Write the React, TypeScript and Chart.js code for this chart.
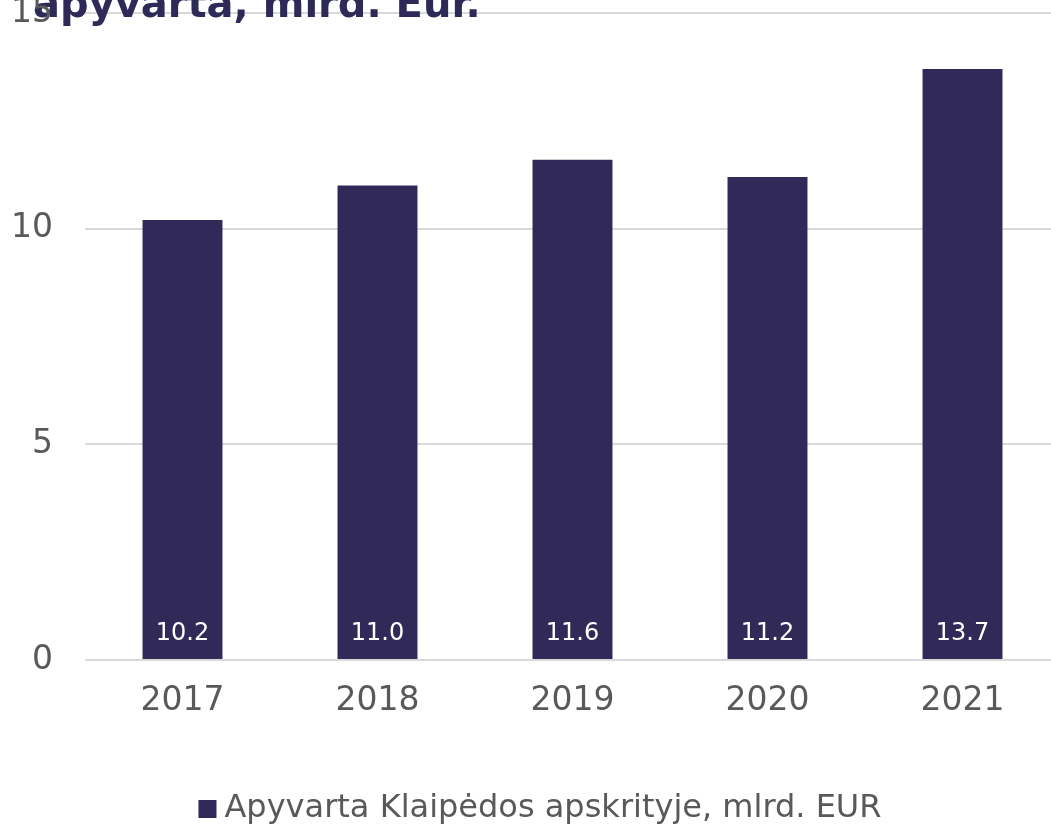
import React, { useEffect, useRef } from "react";
import { Chart, registerables } from "chart.js";

Chart.register(...registerables);

const categories = ["2017", "2018", "2019", "2020", "2021"];
const values = [10.2, 11.0, 11.6, 11.2, 13.7];
const seriesLabel = "Apyvarta Klaipėdos apskrityje, mlrd. EUR";
const titleText = "apyvarta, mlrd. Eur.";
const yTicks = [0, 5, 10, 15];

const BAR = "#312A58";
const GRAY = "#595959";
const FONT = "'DejaVu Sans', Verdana, sans-serif";

const overlayPlugin = {
  id: "overlay",
  afterDatasetsDraw(chart: any) {
    const ctx = chart.ctx;
    const meta = chart.getDatasetMeta(0);
    ctx.save();
    // data labels
    ctx.fillStyle = "#FFFFFF";
    ctx.font = `24px ${FONT}`;
    ctx.textAlign = "center";
    ctx.textBaseline = "middle";
    meta.data.forEach((el: any, i: number) => {
      ctx.fillText(values[i].toFixed(1), el.x, el.base - 25);
    });
    // title (cut off at the top, as in the reference)
    ctx.fillStyle = "#2E2A58";
    ctx.font = `bold 40px ${FONT}`;
    ctx.textAlign = "left";
    ctx.textBaseline = "alphabetic";
    ctx.fillText(titleText, 33, 17);
    // legend
    ctx.font = `32px ${FONT}`;
    const tw = ctx.measureText(seriesLabel).width;
    const box = 18;
    const gap = 8;
    const total = box + gap + tw;
    const cx = 540;
    const x0 = cx - total / 2;
    const yc = 809;
    ctx.fillStyle = BAR;
    ctx.fillRect(x0, yc - box / 2, box, box);
    ctx.fillStyle = GRAY;
    ctx.textBaseline = "middle";
    ctx.fillText(seriesLabel, x0 + box + gap, yc);
    ctx.restore();
  },
};

export default function App() {
  const ref = useRef<HTMLCanvasElement | null>(null);
  useEffect(() => {
    document.body.style.margin = "0";
    document.body.style.overflow = "hidden";
    const chart = new Chart(ref.current as HTMLCanvasElement, {
      type: "bar",
      data: {
        labels: categories,
        datasets: [
          {
            label: seriesLabel,
            data: values,
            backgroundColor: BAR,
            borderWidth: 0,
            barPercentage: 0.41,
            categoryPercentage: 1,
          },
        ],
      },
      options: {
        animation: false,
        responsive: false,
        maintainAspectRatio: false,
        layout: { padding: { top: 13, right: 0, bottom: 0, left: 0 } },
        plugins: {
          tooltip: { enabled: false },
          legend: { display: false },
        },
        scales: {
          x: {
            afterFit: (s: any) => {
              s.height = 166;
              s.paddingLeft = 0;
              s.paddingRight = 0;
            },
            grid: { display: false, drawTicks: false },
            border: { display: false },
            ticks: { color: GRAY, font: { family: FONT, size: 33 }, padding: 22 },
          },
          y: {
            min: 0,
            max: 15,
            afterBuildTicks: (s: any) => {
              s.ticks = yTicks.map((v) => ({ value: v }));
            },
            afterFit: (s: any) => {
              s.width = 85;
              s.paddingTop = 0;
              s.paddingBottom = 0;
            },
            grid: { color: "#D9D9D9", lineWidth: 2, drawTicks: false },
            border: { display: false },
            ticks: {
              color: GRAY,
              font: { family: FONT, size: 33 },
              padding: 32,
              z: 1,
            },
          },
        },
      },
      plugins: [overlayPlugin],
    } as any);
    return () => chart.destroy();
  }, []);
  return (
    <div style={{ width: 1051, height: 826, overflow: "hidden", position: "relative" }}>
      <canvas ref={ref} width={1060} height={826} style={{ display: "block", width: 1060, height: 826 }} />
    </div>
  );
}
